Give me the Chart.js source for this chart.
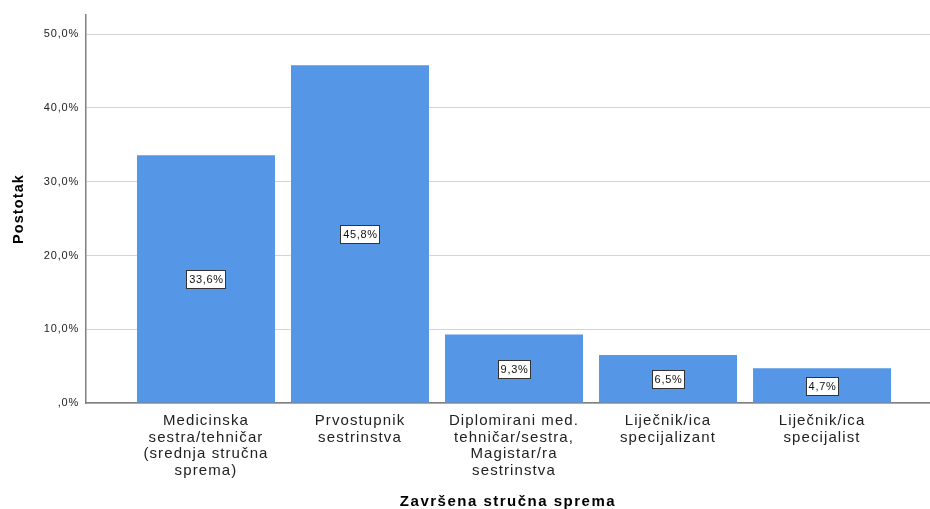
<!DOCTYPE html>
<html>
<head>
<meta charset="utf-8">
<script src="https://cdn.jsdelivr.net/npm/chart.js@4/dist/chart.umd.min.js"></script>
<style>
  html,body{margin:0;padding:0;background:#fff;}
  #wrap{width:930px;height:509px;position:relative;}
</style>
</head>
<body>
<div id="wrap"><canvas id="c" width="930" height="509"></canvas></div>
<script>
// ---- data ----
const categories = [
  ["Medicinska", "sestra/tehničar", "(srednja stručna", "sprema)"],
  ["Prvostupnik", "sestrinstva"],
  ["Diplomirani med.", "tehničar/sestra,", "Magistar/ra", "sestrinstva"],
  ["Liječnik/ica", "specijalizant"],
  ["Liječnik/ica", "specijalist"]
];
const values = [33.6, 45.8, 9.3, 6.5, 4.7];
const yTicks = [0, 10, 20, 30, 40, 50];
const xTitle = "Završena stručna sprema";
const yTitle = "Postotak";

const FONT = "'Liberation Sans', Arial, sans-serif";
const fmt = v => (v === 0 ? "" : Math.floor(v)) + "," + Math.round((v % 1) * 10) + "%";

// letter spacing to mimic the wider rendering of the original
function withSpacing(ctx, sp, fn) {
  const prev = ctx.letterSpacing;
  ctx.letterSpacing = sp;
  fn();
  ctx.letterSpacing = prev || '0px';
}
const spacingPlugin = {
  id: 'spacing',
  beforeDraw(chart) {
    const ctx = chart.ctx;
    const cfg = {
      x: { labels: '1.1px', title: '1.5px' },
      y: { labels: '0.8px', title: '1.1px' }
    };
    Object.keys(cfg).forEach(id => {
      const s = chart.scales[id];
      if (!s || s._spPatched) return;
      const dl = s.drawLabels.bind(s), dt = s.drawTitle.bind(s);
      s.drawLabels = a => withSpacing(ctx, cfg[id].labels, () => dl(a));
      s.drawTitle = a => withSpacing(ctx, cfg[id].title, () => dt(a));
      s._spPatched = true;
    });
  }
};

const valueLabels = {
  id: 'valueLabels',
  afterDatasetsDraw(chart) {
    const ctx = chart.ctx;
    const meta = chart.getDatasetMeta(0);
    const ys = chart.scales.y;
    ctx.save();
    ctx.font = "11px " + FONT;
    ctx.letterSpacing = '0.7px';
    ctx.textAlign = 'center';
    ctx.textBaseline = 'middle';
    meta.data.forEach((bar, i) => {
      const v = values[i];
      const txt = fmt(v);
      const cx = bar.x;
      const cy = ys.getPixelForValue(v / 2);
      const w = Math.round(ctx.measureText(txt).width + 4);
      const h = 18;
      const x0 = Math.round(cx - w / 2) + 0.5, y0 = Math.round(cy - h / 2) + 0.5;
      ctx.fillStyle = '#ffffff';
      ctx.fillRect(x0, y0, w, h);
      ctx.strokeStyle = '#333333';
      ctx.lineWidth = 1;
      ctx.strokeRect(x0, y0, w, h);
      ctx.fillStyle = '#111111';
      ctx.fillText(txt, cx + 0.5, cy + 1);
    });
    ctx.restore();
  }
};

new Chart(document.getElementById('c'), {
  type: 'bar',
  data: {
    datasets: [{
      data: values.map((v, i) => ({ x: i, y: v })),
      backgroundColor: '#5596e6',
      borderWidth: 0,
      barPercentage: 0.896,
      categoryPercentage: 1.0
    }]
  },
  options: {
    responsive: false,
    animation: false,
    devicePixelRatio: 1,
    layout: { padding: { top: 15, right: 0, left: 0, bottom: 0 } },
    plugins: { legend: { display: false }, tooltip: { enabled: false } },
    scales: {
      x: {
        type: 'linear',
        min: -0.779,
        max: 4.701,
        offset: false,
        grid: { display: false, offset: false, drawTicks: false },
        border: { display: true, color: '#808080', width: 1.5 },
        afterBuildTicks: s => { s.ticks = categories.map((c, i) => ({ value: i })); },
        ticks: {
          autoSkip: false,
          maxRotation: 0,
          padding: 10,
          color: '#222',
          font: { family: FONT, size: 15, lineHeight: 1.1 },
          callback: v => categories[v]
        },
        afterFit: s => { s.height = 106; },
        title: {
          display: true,
          text: xTitle,
          color: '#000',
          font: { family: FONT, size: 15, weight: 'bold', lineHeight: 1.0 },
          padding: { top: 0, bottom: 0 }
        }
      },
      y: {
        min: 0,
        max: 52.6,
        afterBuildTicks: s => { s.ticks = yTicks.map(v => ({ value: v })); },
        grid: { color: '#d4d4d4', lineWidth: 1, drawTicks: false },
        border: { display: true, color: '#808080', width: 1.5 },
        ticks: {
          padding: 7,
          color: '#222',
          font: { family: FONT, size: 11 },
          callback: v => fmt(v)
        },
        afterFit: s => { s.width = 86; },
        title: {
          display: true,
          text: yTitle,
          color: '#000',
          font: { family: FONT, size: 14.5, weight: 'bold' },
          padding: { top: 10, bottom: 0 }
        }
      }
    }
  },
  plugins: [spacingPlugin, valueLabels]
});
</script>
</body>
</html>
